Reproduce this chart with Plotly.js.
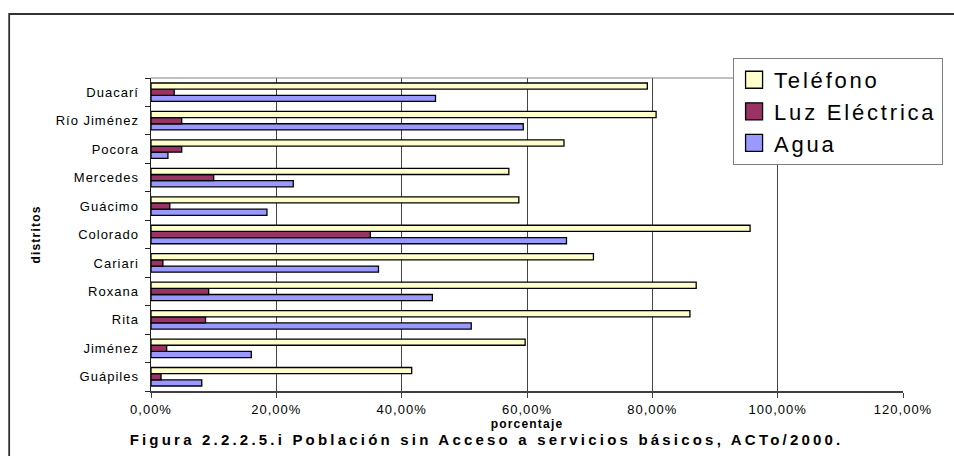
<!DOCTYPE html>
<html>
<head>
<meta charset="utf-8">
<script src="https://cdn.plot.ly/plotly-3.0.1.min.js"></script>
<style>
  html, body { margin: 0; padding: 0; background: #fff; }
  .legendtext { letter-spacing: 2.8px; }
  .gtitle { letter-spacing: 3.2px; }
  .xtitle, .ytitle { letter-spacing: 1.2px; }
  .xtick text, .ytick text { letter-spacing: 1px; }
</style>
</head>
<body>
<div id="chart" style="width:954px;height:456px;"></div>
<script>
// Districts, bottom to top as drawn
const distritos = ["Guápiles", "Jiménez", "Rita", "Roxana", "Cariari", "Colorado",
                   "Guácimo", "Mercedes", "Pocora", "Río Jiménez", "Duacarí"];
// Percent of population without access (%)
const telefono = [41.6, 59.7, 86.0, 87.0, 70.6, 95.6, 58.7, 57.1, 65.9, 80.6, 79.2];
const luzElectrica = [1.6, 2.5, 8.7, 9.2, 1.9, 35.0, 3.0, 10.0, 4.9, 4.9, 3.7];
const agua = [8.1, 16.0, 51.1, 44.9, 36.3, 66.3, 18.5, 22.7, 2.7, 59.4, 45.4];
const xTicks = [0, 20, 40, 60, 80, 100, 120];
const xTickLabels = ["0,00%", "20,00%", "40,00%", "60,00%", "80,00%", "100,00%", "120,00%"];

const font = "Liberation Sans, Arial, sans-serif";
const line = { color: "#000", width: 1.3 };

const traces = [
  { name: "Agua", x: agua, y: distritos, type: "bar", orientation: "h",
    marker: { color: "#9999FF", line: line }, legendrank: 3 },
  { name: "Luz Eléctrica", x: luzElectrica, y: distritos, type: "bar", orientation: "h",
    marker: { color: "#993366", line: line }, legendrank: 2 },
  { name: "Teléfono", x: telefono, y: distritos, type: "bar", orientation: "h",
    marker: { color: "#FFFFCC", line: line }, legendrank: 1 }
];

const layout = {
  width: 954, height: 456,
  margin: { l: 151, r: 50, t: 78, b: 65 },
  paper_bgcolor: "#fff", plot_bgcolor: "#fff",
  font: { family: font, color: "#000", size: 13 },
  barmode: "group", bargap: 0.35, bargroupgap: 0,
  showlegend: true,
  hovermode: false,
  title: {
    text: "<b>Figura 2.2.2.5.i Población sin Acceso a servicios básicos, ACTo/2000.</b>",
    font: { family: font, size: 15, color: "#000" },
    x: 0.51, xanchor: "center", y: 0.035, yanchor: "middle"
  },
  xaxis: {
    range: [0, 120], tickmode: "array", tickvals: xTicks, ticktext: xTickLabels,
    showgrid: true, gridcolor: "#444", gridwidth: 1,
    showline: true, linecolor: "#404040", linewidth: 2,
    ticks: "outside", ticklen: 5, tickcolor: "#404040",
    tickfont: { family: font, size: 13, color: "#000" },
    zeroline: false, fixedrange: true,
    title: { text: "<b>porcentaje</b>", font: { family: font, size: 12, color: "#000" }, standoff: 2 }
  },
  yaxis: {
    type: "category", categoryorder: "array", categoryarray: distritos,
    tickson: "boundaries", ticks: "outside", ticklen: 5, tickcolor: "#222",
    showline: true, linecolor: "#222", linewidth: 1.5,
    showgrid: false, zeroline: false, fixedrange: true,
    ticklabelstandoff: 8,
    tickfont: { family: font, size: 13, color: "#000" },
    title: { text: "<b>distritos</b>", font: { family: font, size: 12, color: "#000" }, standoff: 12 }
  },
  legend: {
    x: 0.773, y: 1.064, xanchor: "left", yanchor: "top",
    bgcolor: "#fff", bordercolor: "#808080", borderwidth: 1,
    font: { family: font, size: 22, color: "#000" },
    traceorder: "normal", itemwidth: 30
  },
  shapes: [
    { type: "line", xref: "paper", yref: "paper", x0: 0, x1: 1, y0: 1, y1: 1,
      line: { color: "#808080", width: 1.2 } },
    { type: "rect", xref: "paper", yref: "paper", x0: -0.1886, x1: 1.2, y0: -0.4, y1: 1.2045,
      line: { color: "#333", width: 1.8 }, layer: "below" }
  ]
};

Plotly.newPlot("chart", traces, layout, { staticPlot: true, displayModeBar: false }).then(function () {
  // enlarge the legend swatches to the size used in the original chart
  document.querySelectorAll(".legendpoints path").forEach(function (p) {
    p.setAttribute("d", "M8.5,8.5H-8.5V-8.5H8.5Z");
  });
});
</script>
</body>
</html>
